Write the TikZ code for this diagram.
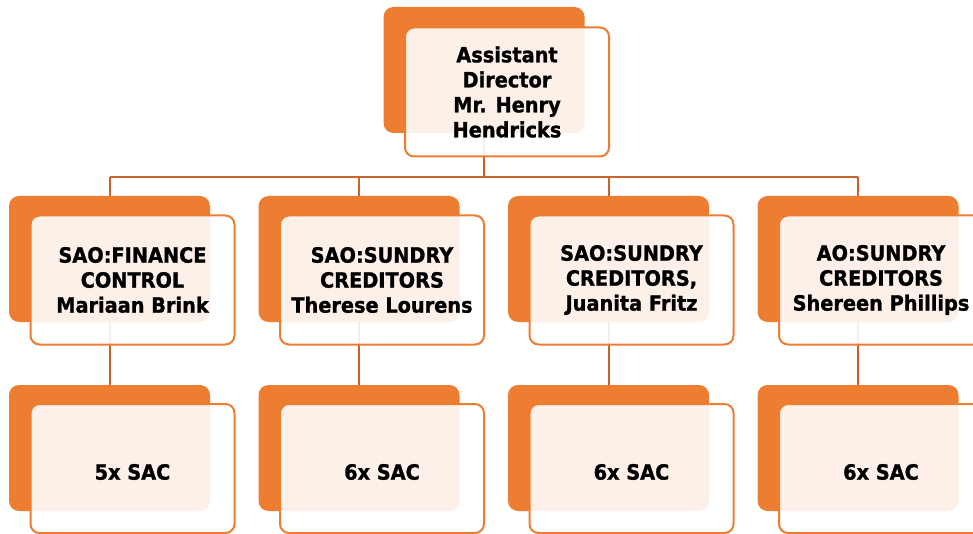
\documentclass[tikz,border=0pt]{standalone}
\usepackage{fontspec}
\setmainfont{DejaVu Sans}[FakeStretch=0.92, BoldFeatures={FakeBold=1.2}]
\definecolor{accent}{HTML}{ED7D31}
\definecolor{linkcol}{HTML}{C8642A}
\pgfdeclarelayer{links}
\pgfsetlayers{links,main}
\tikzset{
  backbox/.style={draw=none, fill=accent, rounded corners=10pt,
    minimum width=201pt, minimum height=126pt, inner sep=0pt},
  frontbox/.style={draw=accent, line width=2pt, fill=white, fill opacity=0.89,
    text opacity=1, rounded corners=9pt, minimum width=204pt, minimum height=129pt,
    inner sep=0pt, align=center,
    font=\fontsize{21}{25}\selectfont\bfseries},
  boxtext/.style={inner sep=0pt, font=\fontsize{21}{25}\selectfont\bfseries},
  link/.style={draw=linkcol, line width=2pt}
}
\begin{document}
\begin{tikzpicture}[x=1pt,y=-1pt]
\useasboundingbox (0,0) rectangle (973,534);

% ---- back (solid) cards ----
\node[backbox] (b0) at (484,70) {};
\foreach \i/\x in {1/109.5,2/359,3/608.5,4/858}{
  \node[backbox] (b\i) at (\x,259) {};
  \node[backbox] (c\i) at (\x,448) {};
}

% ---- connectors, kept beneath the cards ----
\coordinate (bus) at (484,177);
\begin{pgfonlayer}{links}
  \draw[link] (b0.south) -- (bus);
  \draw[link] (b1.north |- bus) -- (b4.north |- bus);
  \foreach \i in {1,...,4}{
    \draw[link] (b\i.north |- bus) -- (b\i.north);
    \draw[link] (b\i.south) -- (c\i.north);
  }
\end{pgfonlayer}

% ---- front (translucent) cards with their titles ----
\node[frontbox] (f0) at (507,92) {Assistant\\Director\\Mr. Henry\\Hendricks};
\node[frontbox] (f1) at (132.5,280) {SAO:FINANCE\\CONTROL\\Mariaan Brink};
\node[frontbox] (f2) at (382,280) {SAO:SUNDRY\\CREDITORS\\Therese Lourens};
\node[frontbox] (f3) at (631.5,280) {SAO:SUNDRY\\CREDITORS,\\Juanita Fritz};
\node[frontbox] (f4) at (881,280) {AO:SUNDRY\\CREDITORS\\Shereen Phillips};

\foreach \i/\x/\n in {1/132.5/5,2/382/6,3/631.5/6,4/881/6}{
  \node[frontbox] (g\i) at (\x,468.5) {};
  \node[boxtext] (t\i) at (\x,472) {\n x SAC};
}
\end{tikzpicture}
\end{document}
